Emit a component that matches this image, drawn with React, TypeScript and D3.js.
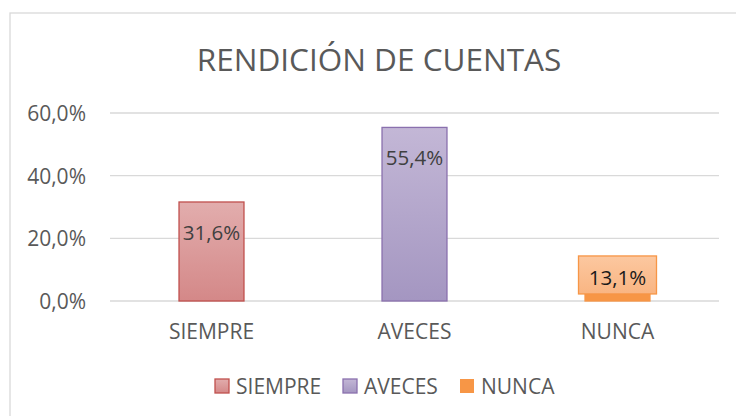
import React from "react";
import * as d3 from "d3";

const categories = ["SIEMPRE", "AVECES", "NUNCA"];
const values = [0.316, 0.554, 0.131];
const valueLabels = ["31,6%", "55,4%", "13,1%"];
const yTicks = [0, 0.2, 0.4, 0.6];
const yTickLabels = ["0,0%", "20,0%", "40,0%", "60,0%"];
const title = "RENDICIÓN DE CUENTAS";

const W = 736;
const H = 416;
const FONT = "'Open Sans', 'Noto Sans', sans-serif";

const palettes = [
  { top: "#e2adad", bottom: "#d48888", stroke: "#c0504d", solid: false },
  { top: "#c3b7d6", bottom: "#a496c1", stroke: "#8a70ae", solid: false },
  { top: "#f79646", bottom: "#f79646", stroke: "#f79646", solid: true },
];

export default function App() {
  const plotLeft = 110;
  const plotRight = 719;
  const y = d3.scaleLinear().domain([0, 0.6]).range([301, 113]);
  const x = d3.scaleBand<string>().domain(categories).range([plotLeft, plotRight]).paddingInner(0.68).paddingOuter(0.34);
  const xc = d3.scaleBand<string>().domain(categories).range([plotLeft, plotRight]);

  const legendX = [215, 343, 460];

  return (
    <svg width={W} height={H} style={{ position: "absolute", left: 0, top: 0, background: "#fff" }} fontFamily={FONT}>
      <defs>
        {palettes.map((p, i) => (
          <linearGradient key={i} id={`g${i}`} x1="0" y1="0" x2="0" y2="1">
            <stop offset="0%" stopColor={p.top} />
            <stop offset="100%" stopColor={p.bottom} />
          </linearGradient>
        ))}
        <linearGradient id="lblNunca" x1="0" y1="0" x2="0" y2="1">
          <stop offset="0%" stopColor="#fcc8a0" />
          <stop offset="100%" stopColor="#f9b582" />
        </linearGradient>
      </defs>
      <rect x={0} y={0} width={W} height={H} fill="#fff" />
      <rect x={10} y={13} width={W + 20} height={H + 20} fill="none" stroke="#d9d9d9" strokeWidth={1.3} />

      <text x={379} y={58} textAnchor="middle" dominantBaseline="central" fontSize={31.5} fill="#595959">
        {title}
      </text>

      {yTicks.map((t, i) => (
        <g key={t}>
          <line x1={plotLeft} x2={plotRight} y1={y(t)} y2={y(t)} stroke="#d9d9d9" strokeWidth={1.3} />
          <text x={86} y={y(t)} textAnchor="end" dominantBaseline="central" fontSize={21} fill="#595959">
            {yTickLabels[i]}
          </text>
        </g>
      ))}

      {categories.map((c, i) => {
        const bx = x(c)!;
        const bw = x.bandwidth();
        const top = y(values[i]);
        const h = y(0) - top;
        const p = palettes[i];
        const cx = bx + bw / 2;
        return (
          <g key={c}>
            <rect x={bx} y={top} width={bw} height={h} fill={p.solid ? p.top : `url(#g${i})`} stroke={p.stroke} strokeWidth={1.3} />
            {i === 2 ? (
              <g>
                <rect x={cx - 39} y={top - 4} width={78} height={38} fill="url(#lblNunca)" stroke="#f79646" strokeWidth={1.3} />
                <text x={cx} y={top + 17} textAnchor="middle" dominantBaseline="central" fontSize={20.5} fill="#1a1a1a">
                  {valueLabels[i]}
                </text>
              </g>
            ) : (
              <text x={cx} y={top + 30} textAnchor="middle" dominantBaseline="central" fontSize={20.5} fill="#404040">
                {valueLabels[i]}
              </text>
            )}
            <text x={xc(c)! + xc.bandwidth() / 2} y={331} textAnchor="middle" dominantBaseline="central" fontSize={21} fill="#595959">
              {c}
            </text>
          </g>
        );
      })}

      {categories.map((c, i) => {
        const p = palettes[i];
        return (
          <g key={`lg${c}`}>
            <rect x={legendX[i]} y={379} width={14} height={14} fill={p.solid ? p.top : `url(#g${i})`} stroke={p.stroke} strokeWidth={p.solid ? 0 : 1.3} />
            <text x={legendX[i] + 21} y={386} dominantBaseline="central" fontSize={21} fill="#595959">
              {c}
            </text>
          </g>
        );
      })}
    </svg>
  );
}
